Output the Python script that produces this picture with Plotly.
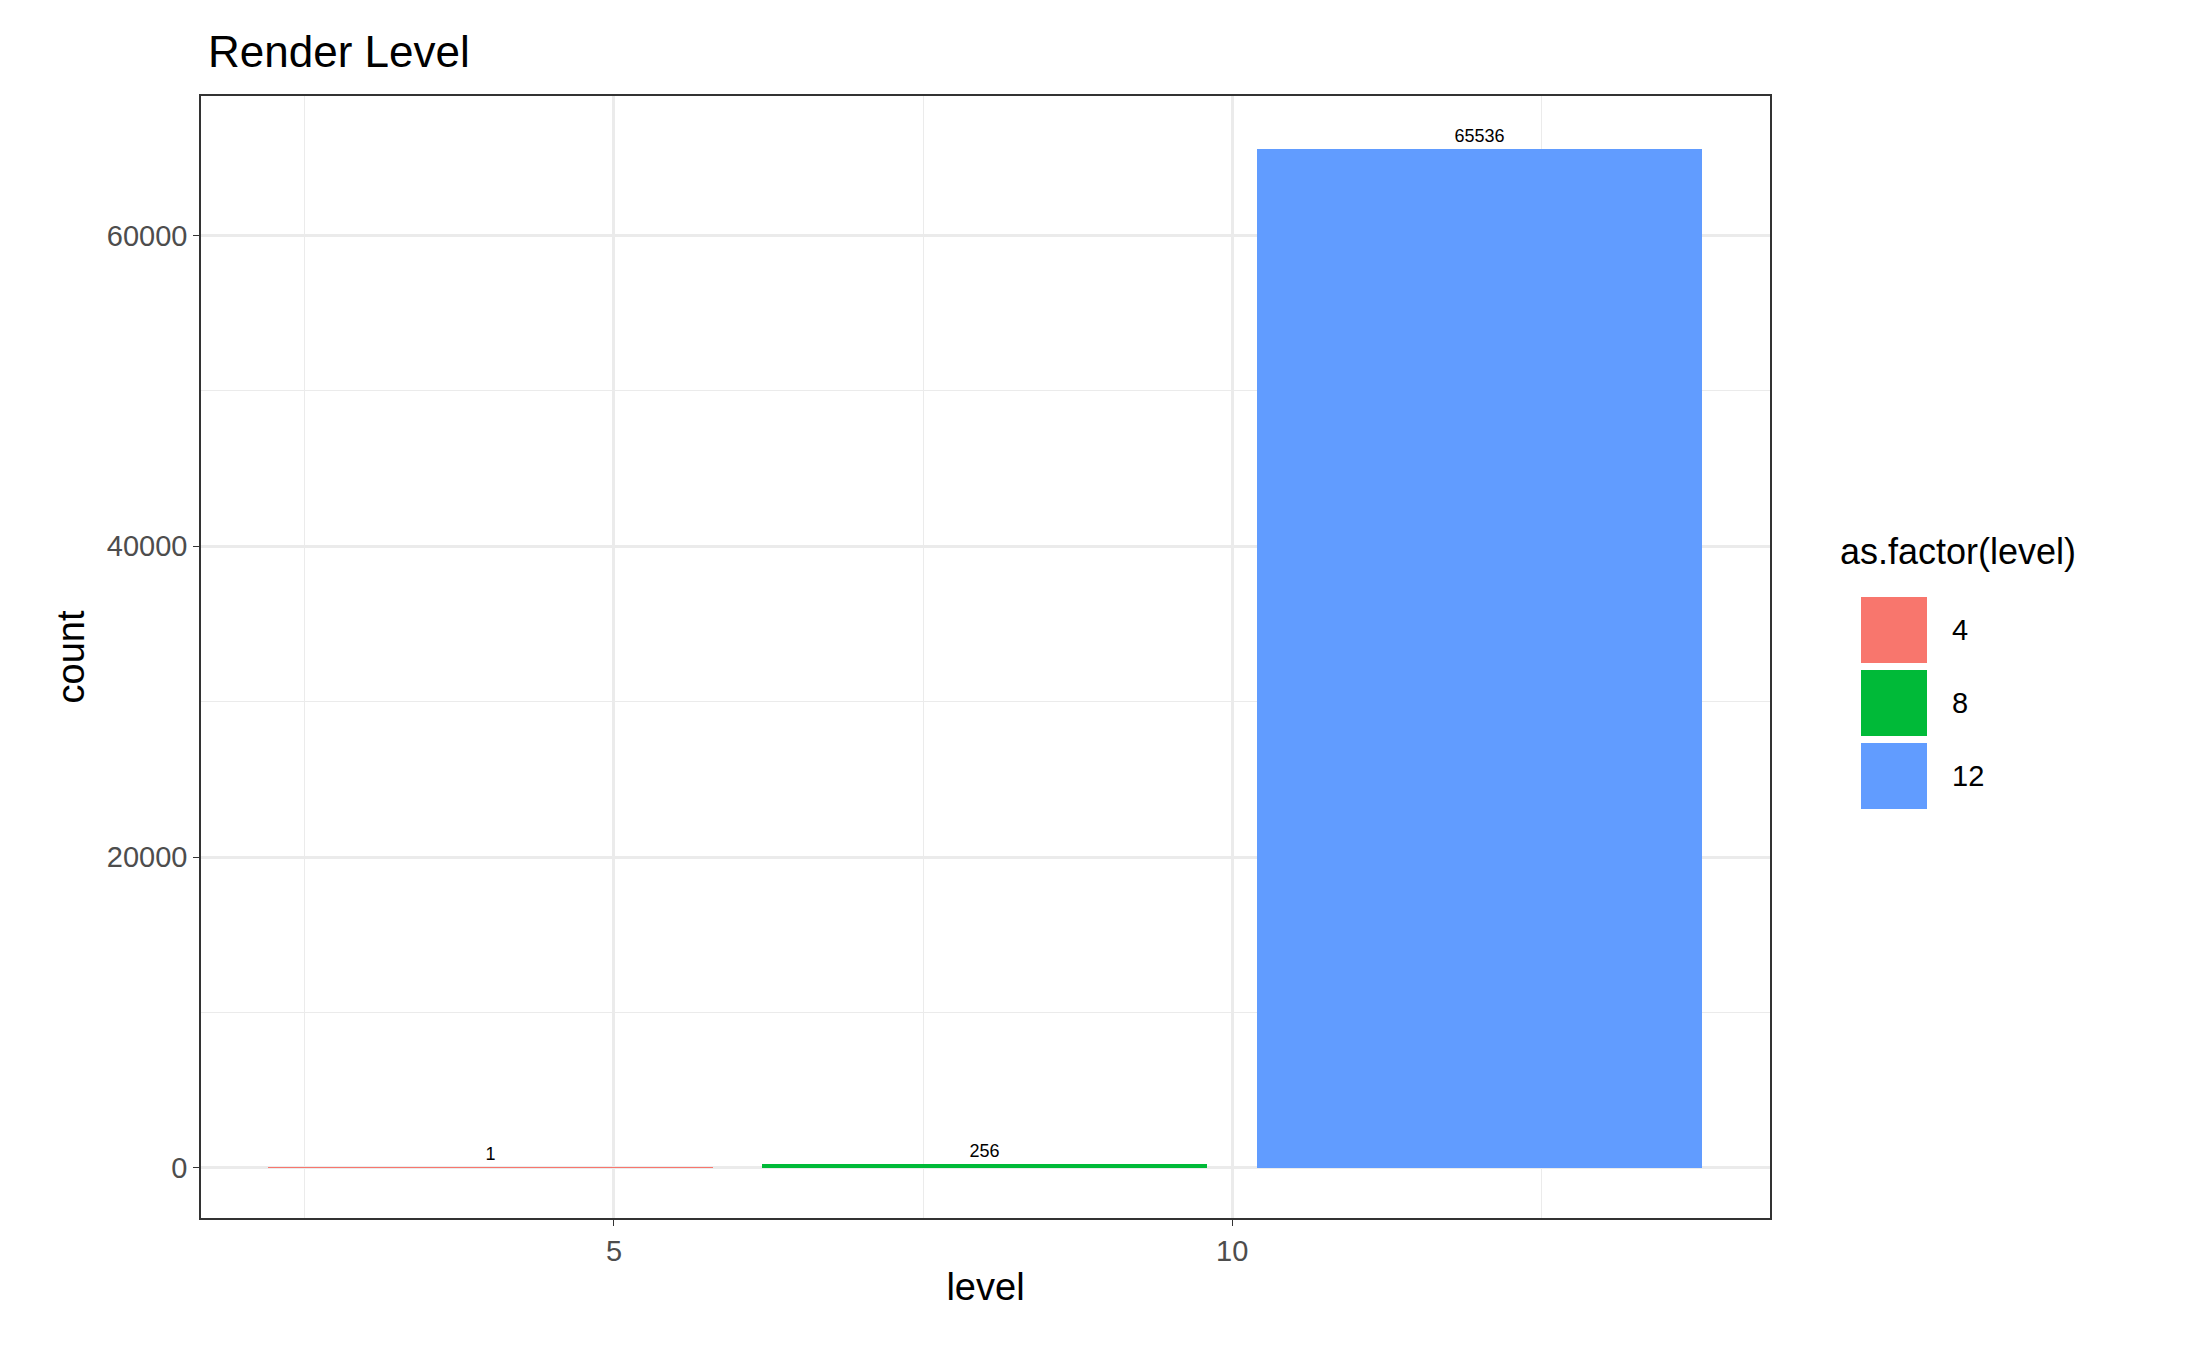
import plotly.graph_objects as go

levels = [4, 8, 12]
counts = [1, 256, 65536]
colors = ["#F8766D", "#00BA38", "#619CFF"]
legend_title = "as.factor(level)"
y_ticks = [0, 20000, 40000, 60000]

W, H = 2187, 1351
L, R, T, B = 193, 1762, 88, 1210


def px(x):
    return (x - L) / (R - L)


def py(y):
    return (B - y) / (B - T)


fig = go.Figure()
for lv, c, col in zip(levels, counts, colors):
    fig.add_trace(go.Bar(
        x=[lv], y=[c], width=3.6, marker_color=col, marker_line_width=0,
        text=[str(c)], textposition="outside", cliponaxis=False,
        textfont=dict(size=18, color="black"), showlegend=False,
    ))

# legend drawn by hand to get ggplot-like swatches
fig.add_annotation(x=px(1830), y=py(543), xref="paper", yref="paper", text=legend_title,
                   showarrow=False, xanchor="left", font=dict(size=36, color="black"))
for i, (lv, col) in enumerate(zip(levels, colors)):
    y0 = 589 + i * 73
    fig.add_shape(type="rect", xref="paper", yref="paper", x0=px(1853), x1=px(1919),
                  y0=py(y0), y1=py(y0 + 66), fillcolor=col, line_width=0)
    fig.add_annotation(x=px(1942), y=py(y0 + 33), xref="paper", yref="paper", text=str(lv),
                       showarrow=False, xanchor="left", font=dict(size=29, color="black"))

fig.update_layout(
    width=W, height=H, margin=dict(l=L, r=W - R, t=T, b=H - B),
    plot_bgcolor="white", paper_bgcolor="white",
    font=dict(family="Liberation Sans, Arial", color="#4D4D4D"),
    title=dict(text="Render Level", x=px(200), xref="paper", xanchor="left", y=1 - 44 / H,
               yanchor="middle", font=dict(size=44, color="black")),
    bargap=0,
)
fig.update_xaxes(
    range=[1.66, 14.35], tickvals=[5, 10], ticks="outside", ticklen=6, tickcolor="#333333",
    tickfont=dict(size=29, color="#4D4D4D"), showgrid=True, gridcolor="#EBEBEB", gridwidth=2.5,
    minor=dict(tickvals=[2.5, 7.5, 12.5], showgrid=True, gridcolor="#EBEBEB", gridwidth=1.2),
    showline=True, linecolor="#333333", linewidth=1.5, mirror=True, zeroline=False,
    title=dict(text="level", font=dict(size=38, color="black"), standoff=8),
)
fig.update_yaxes(
    range=[-3229, 68969], tickvals=y_ticks, ticktext=[str(v) for v in y_ticks],
    ticks="outside", ticklen=6, tickcolor="#333333", tickfont=dict(size=29, color="#4D4D4D"),
    showgrid=True, gridcolor="#EBEBEB", gridwidth=2.5,
    minor=dict(tickvals=[10000, 30000, 50000], showgrid=True, gridcolor="#EBEBEB", gridwidth=1.2),
    showline=True, linecolor="#333333", linewidth=1.5, mirror=True, zeroline=False,
    title=dict(text="count", font=dict(size=38, color="black"), standoff=10),
)

fig.write_html("out.html")
